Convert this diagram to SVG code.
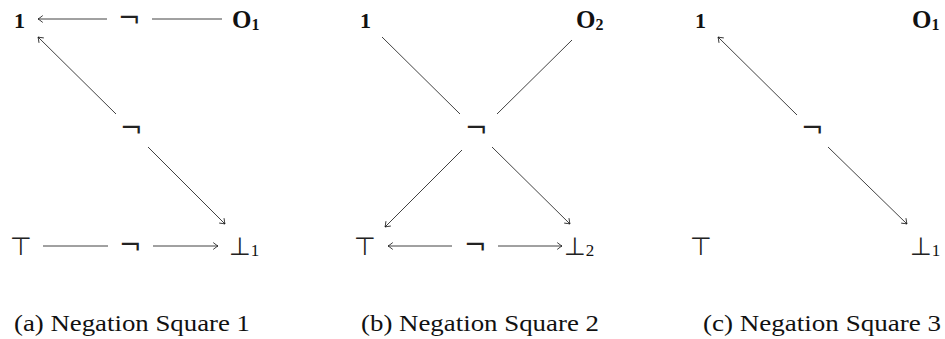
<svg xmlns="http://www.w3.org/2000/svg" width="945" height="339" viewBox="0 0 945 339">
<defs>
<marker id="to" viewBox="-6 -4 7 8" refX="0" refY="0" markerWidth="7" markerHeight="8" markerUnits="userSpaceOnUse" orient="auto" overflow="visible">
<path d="M -4.5 -3.2 Q -1.2 -0.6 0 0 Q -1.2 0.6 -4.5 3.2" fill="none" stroke="#111" stroke-width="0.8" stroke-linecap="round"/>
</marker>
<style>
.ln{stroke:#111;stroke-width:0.8;fill:none}
.ar{stroke:#111;stroke-width:0.8;fill:none;marker-end:url(#to)}
.b{font-family:"Liberation Serif","DejaVu Serif",serif;font-weight:bold;font-size:22px;fill:#111}
.o{font-family:"Liberation Serif","DejaVu Serif",serif;font-weight:bold;font-size:25px;fill:#111}
.n{font-family:"DejaVu Sans","Noto Sans",sans-serif;font-size:27px;fill:#222}
.s{font-family:"DejaVu Sans","Noto Sans",sans-serif;font-size:25px;fill:#222}
.sub{font-family:"Liberation Serif","DejaVu Serif",serif;font-size:17px;fill:#111}
.subb{font-family:"Liberation Serif","DejaVu Serif",serif;font-weight:bold;font-size:16px;fill:#111}
.cap{font-family:"Liberation Serif","DejaVu Serif",serif;font-size:24px;fill:#111;text-anchor:middle}
</style>
</defs>
<g id="connectors">
<line class="ar" x1="107" y1="19" x2="38" y2="19"/>
<line class="ln" x1="152" y1="19" x2="222" y2="19"/>
<line class="ar" x1="116" y1="114" x2="38" y2="37"/>
<line class="ar" x1="148" y1="147" x2="225" y2="224"/>
<line class="ln" x1="43" y1="246" x2="108" y2="246"/>
<line class="ar" x1="153" y1="246" x2="218" y2="246"/>
<line class="ln" x1="382" y1="37" x2="460" y2="114"/>
<line class="ln" x1="572" y1="40" x2="497" y2="114"/>
<line class="ar" x1="462" y1="150" x2="385" y2="227"/>
<line class="ar" x1="492" y1="147" x2="570" y2="224"/>
<line class="ar" x1="452" y1="246" x2="388" y2="246"/>
<line class="ar" x1="498" y1="246" x2="562" y2="246"/>
<line class="ar" x1="797" y1="115" x2="718" y2="37"/>
<line class="ar" x1="828" y1="147" x2="907" y2="224"/>
</g>
<g id="a-one"><text class="b" x="14" y="28">1</text></g>
<g id="a-neg-top"><text class="n" x="118" y="27">¬</text></g>
<g id="a-o1"><text class="o" x="232" y="28">O<tspan class="subb" dy="2">1</tspan></text></g>
<g id="a-neg-mid"><text class="n" x="120" y="137">¬</text></g>
<g id="a-top"><text class="s" x="10" y="255">⊤</text></g>
<g id="a-neg-bot"><text class="n" x="119" y="254">¬</text></g>
<g id="a-bot1"><text class="s" x="229" y="255">⊥<tspan class="sub" dy="1">1</tspan></text></g>
<g id="b-one"><text class="b" x="360" y="28">1</text></g>
<g id="b-o2"><text class="o" x="576" y="28">O<tspan class="subb" dy="2">2</tspan></text></g>
<g id="b-neg-mid"><text class="n" x="465" y="137">¬</text></g>
<g id="b-top"><text class="s" x="354" y="255">⊤</text></g>
<g id="b-neg-bot"><text class="n" x="464" y="254">¬</text></g>
<g id="b-bot2"><text class="s" x="564" y="255">⊥<tspan class="sub" dy="1">2</tspan></text></g>
<g id="c-one"><text class="b" x="695" y="28">1</text></g>
<g id="c-o1"><text class="o" x="912" y="28">O<tspan class="subb" dy="2">1</tspan></text></g>
<g id="c-neg-mid"><text class="n" x="801" y="137">¬</text></g>
<g id="c-top"><text class="s" x="690" y="255">⊤</text></g>
<g id="c-bot1"><text class="s" x="910" y="255">⊥<tspan class="sub" dy="1">1</tspan></text></g>
<g id="captions">
<text class="cap" x="132" y="331" textLength="236" lengthAdjust="spacingAndGlyphs">(a) Negation Square 1</text>
<text class="cap" x="480" y="331" textLength="238" lengthAdjust="spacingAndGlyphs">(b) Negation Square 2</text>
<text class="cap" x="822" y="331" textLength="238" lengthAdjust="spacingAndGlyphs">(c) Negation Square 3</text>
</g>
</svg>
